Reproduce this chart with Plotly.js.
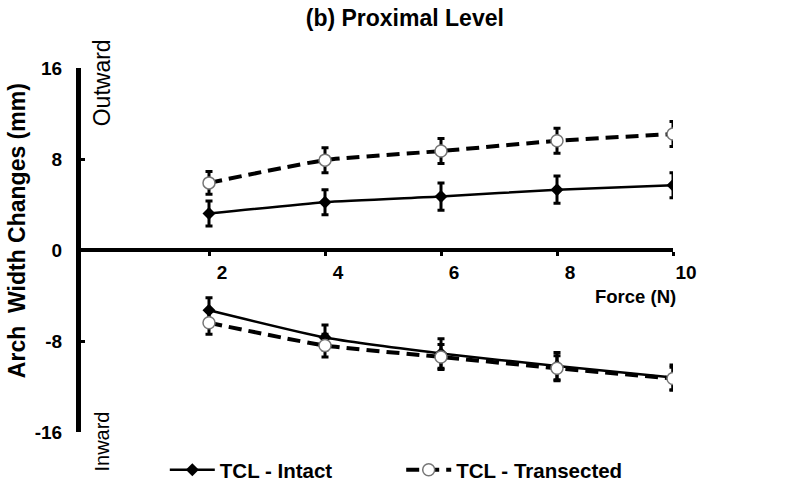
<!DOCTYPE html>
<html>
<head>
<meta charset="utf-8">
<script src="https://cdn.plot.ly/plotly-3.0.1.min.js"></script>
<style>html,body{margin:0;padding:0;background:#fff;}#chart{width:800px;height:484px;}</style>
</head>
<body>
<div id="chart"></div>
<script>
// Data
const forceN = [2, 4, 6, 8, 10];
const tickLabels = ['2', '4', '6', '8', '10'];
const intactOutward = [3.2, 4.2, 4.7, 5.3, 5.7];
const intactOutwardErr = [1.1, 1.1, 1.2, 1.2, 1.1];
const transOutward = [5.9, 7.9, 8.7, 9.6, 10.2];
const transOutwardErr = [1.0, 1.1, 1.1, 1.1, 1.1];
const intactInward = [-5.3, -7.7, -9.1, -10.2, -11.2];
const intactInwardErr = [1.1, 1.1, 1.3, 1.2, 1.1];
const transInward = [-6.4, -8.4, -9.4, -10.4, -11.3];
const transInwardErr = [1.0, 1.0, 1.1, 1.1, 1.0];

const FONT = 'Liberation Sans, Arial, sans-serif';
const errStyle = (arr) => ({type: 'data', array: arr, visible: true, color: '#000', thickness: 3, width: 3.5});

const intactLine = {color: '#000', width: 2.5, shape: 'spline', smoothing: 0.5};
const transLine = {color: '#000', width: 4, dash: '13px,7px', shape: 'spline', smoothing: 0.5};
const intactMarker = {symbol: 'diamond', size: 10, color: '#000'};
const transMarker = {symbol: 'circle', size: 12, color: '#fff', line: {color: '#777', width: 1.5}};

const traces = [
  {x: forceN, y: intactOutward, error_y: errStyle(intactOutwardErr), mode: 'lines+markers',
   line: intactLine, marker: intactMarker, name: 'TCL - Intact', legend: 'legend', showlegend: true},
  {x: forceN, y: transOutward, error_y: errStyle(transOutwardErr), mode: 'lines+markers',
   line: transLine, marker: transMarker, name: 'TCL - Transected', legend: 'legend2', showlegend: true},
  {x: forceN, y: intactInward, error_y: errStyle(intactInwardErr), mode: 'lines+markers',
   line: intactLine, marker: intactMarker, name: 'TCL - Intact', showlegend: false},
  {x: forceN, y: transInward, error_y: errStyle(transInwardErr), mode: 'lines+markers',
   line: transLine, marker: transMarker, name: 'TCL - Transected', showlegend: false}
];

const legendFont = {family: FONT, size: 20.5, color: '#000', weight: 'bold'};
const legendBase = {
  orientation: 'h', xref: 'container', yref: 'container', xanchor: 'left', yanchor: 'middle',
  y: 0.029, font: legendFont, itemwidth: 45, bgcolor: 'rgba(0,0,0,0)', borderwidth: 0
};

const layout = {
  width: 800, height: 484,
  margin: {l: 81, r: 127, t: 68, b: 52},
  paper_bgcolor: '#fff', plot_bgcolor: '#fff',
  font: {family: FONT, color: '#000'},
  showlegend: true,
  title: {text: '<b>(b) Proximal Level</b>', font: {family: FONT, size: 23, color: '#000'},
          xref: 'container', x: 0.506, xanchor: 'center', yref: 'container', y: 0.962, yanchor: 'middle'},
  xaxis: {
    range: [-0.207, 10], anchor: 'free', position: 0.5,
    tickvals: forceN, ticktext: tickLabels,
    ticks: 'outside', ticklen: 4, tickwidth: 3, tickcolor: '#000',
    ticklabelshift: 13, ticklabelstandoff: 0,
    tickfont: {family: FONT, size: 19, color: '#000', weight: 'bold'},
    showline: true, linecolor: '#000', linewidth: 4,
    showgrid: false, zeroline: false, fixedrange: true
  },
  yaxis: {
    range: [-16, 16], tickvals: [-16, -8, 0, 8, 16], ticktext: ['-16', '-8', '0', '8', '16'],
    ticks: 'inside', ticklen: 4, tickwidth: 3, tickcolor: '#000',
    ticklabelstandoff: 10,
    tickfont: {family: FONT, size: 19, color: '#000', weight: 'bold'},
    showline: true, linecolor: '#000', linewidth: 5,
    showgrid: false, zeroline: false, fixedrange: true
  },
  legend: Object.assign({}, legendBase, {x: 0.206}),
  legend2: Object.assign({}, legendBase, {x: 0.5015}),
  annotations: [
    {text: '<b>Arch\u00a0 Width Changes (mm)</b>', textangle: -90, xref: 'paper', yref: 'paper',
     x: -0.108, y: 0.552, xanchor: 'center', yanchor: 'middle', showarrow: false,
     font: {family: FONT, size: 23, color: '#000'}},
    {text: '<b>Force (N)</b>', xref: 'paper', yref: 'paper', x: 1.008, y: 0.371,
     xanchor: 'right', yanchor: 'middle', showarrow: false, font: {family: FONT, size: 18.5, color: '#000'}},
    {text: 'Outward', textangle: -90, xref: 'paper', yref: 'paper', x: 0.035, y: 0.96,
     xanchor: 'center', yanchor: 'middle', showarrow: false, font: {family: FONT, size: 23, color: '#000'}},
    {text: 'Inward', textangle: -90, xref: 'paper', yref: 'paper', x: 0.035, y: -0.027,
     xanchor: 'center', yanchor: 'middle', showarrow: false, font: {family: FONT, size: 20, color: '#000'}}
  ]
};

Plotly.newPlot('chart', traces, layout, {displayModeBar: false, staticPlot: true});
</script>
</body>
</html>
